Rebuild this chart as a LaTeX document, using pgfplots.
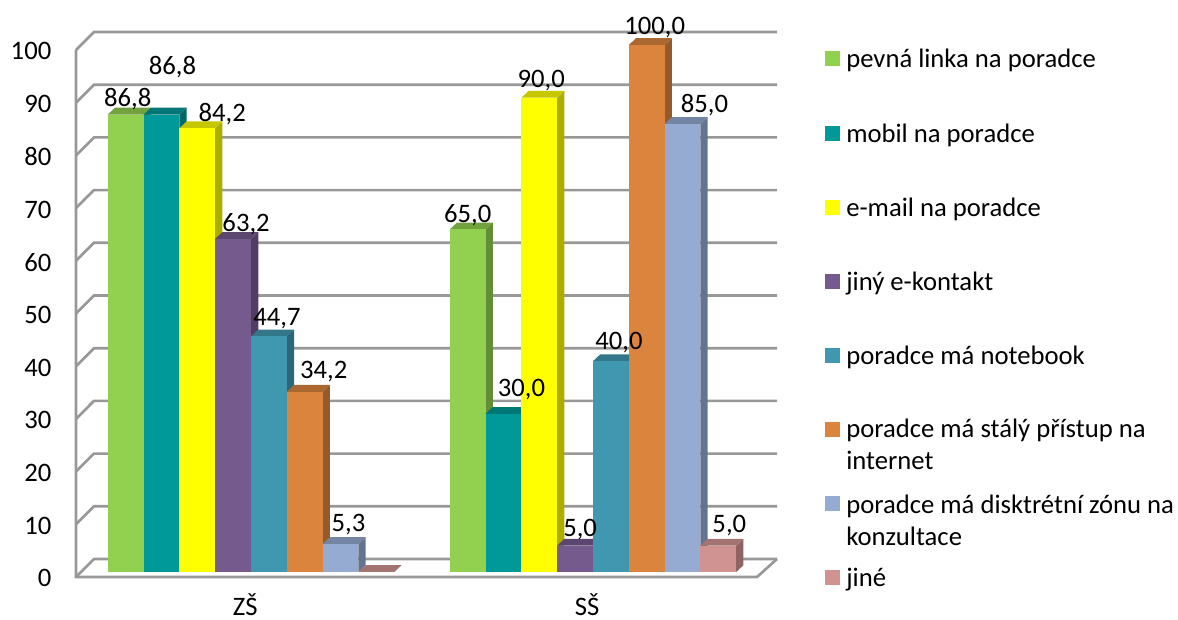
\documentclass[border=0pt]{standalone}
\usepackage{fontspec}
\setmainfont{Carlito}
\usepackage{pgfplots}
\pgfplotsset{compat=1.18}

% 1 px of the reference = 0.75pt
\definecolor{wall}{HTML}{989898}
\definecolor{cgreen}{HTML}{92D050}
\definecolor{cteal}{HTML}{009999}
\definecolor{cyell}{HTML}{FFFF00}
\definecolor{cpurp}{HTML}{755A8E}
\definecolor{cblue}{HTML}{4097B0}
\definecolor{corange}{HTML}{DB843D}
\definecolor{clight}{HTML}{95ABD1}
\definecolor{cpink}{HTML}{D19392}

\newcommand{\lblfont}{\fontsize{20}{24}\selectfont}

% group, index, value, colour
\newcommand{\barbox}[4]{%
  \pgfmathsetmacro\xa{#1+(#2-4)*0.1047-0.003}%
  \pgfmathsetmacro\xb{\xa+0.1047}%
  \pgfmathsetmacro\xc{\xb+0.0213}%
  \pgfmathsetmacro\xd{\xa+0.0213}%
  \pgfmathsetmacro\yt{#3+1.3}%
  \edef\tmp{%
    \noexpand\addplot[fill=#4!68!black,draw=none] coordinates {(\xb,0)(\xc,1.3)(\xc,\yt)(\xb,#3)} --cycle;
    \noexpand\addplot[fill=#4!78!black,draw=none] coordinates {(\xa,#3)(\xb,#3)(\xc,\yt)(\xd,\yt)} --cycle;
    \noexpand\addplot[fill=#4,draw=none] coordinates {(\xa,0)(\xb,0)(\xb,#3)(\xa,#3)} --cycle;
  }\tmp
}
% group, index, value, text, dx px, dy px
\newcommand{\barlabel}[6]{%
  \node[font=\lblfont,inner sep=0pt,xshift=#5*0.75pt,yshift=(#6-2.5)*0.75pt]
    at (axis cs:{#1+(#2-3.5)*0.1047},#3) {#4};
}

\begin{document}
\begin{tikzpicture}
\useasboundingbox (0,0) rectangle (883.5pt,464.25pt);
\begin{axis}[
  at={(57pt,31.5pt)}, anchor=south west,
  scale only axis, width=525.75pt, height=408.75pt,
  xmin=-0.5146, xmax=1.5351, ymin=-0.95, ymax=102.47,
  clip=false,
  axis line style={draw=none},
  major tick length=0pt,
  xtick={-0.02,0.98}, xticklabels={ZŠ,SŠ},
  ytick={-0.95,9.05,19.05,29.05,39.05,49.05,59.05,69.05,79.05,89.05,99.05},
  yticklabels={0,10,20,30,40,50,60,70,80,90,100},
  tick label style={font=\lblfont},
  yticklabel style={anchor=east,xshift=-15pt,yshift=-1pt},
  xticklabel style={anchor=center,yshift=-20.5pt},
]
% walls and grid
\pgfplotsinvokeforeach{0,10,...,100}{
  \draw[wall,line width=2pt] (axis cs:-0.5146,#1-0.95) -- (axis cs:-0.4620,#1+2.47) -- (axis cs:1.5351,#1+2.47);
}
\draw[wall,line width=2pt] (axis cs:-0.5146,99.05) -- (axis cs:-0.5146,-0.95) -- (axis cs:1.4766,-0.95) -- (axis cs:1.5351,2.47);

% ZŠ
\barbox{0}{0}{86.8}{cgreen}
\barbox{0}{1}{86.8}{cteal}
\barbox{0}{2}{84.2}{cyell}
\barbox{0}{3}{63.2}{cpurp}
\barbox{0}{4}{44.7}{cblue}
\barbox{0}{5}{34.2}{corange}
\barbox{0}{6}{5.3}{clight}
\barbox{0}{7}{0}{cpink}
% SŠ
\barbox{1}{0}{65}{cgreen}
\barbox{1}{1}{30}{cteal}
\barbox{1}{2}{90}{cyell}
\barbox{1}{3}{5}{cpurp}
\barbox{1}{4}{40}{cblue}
\barbox{1}{5}{100}{corange}
\barbox{1}{6}{85}{clight}
\barbox{1}{7}{5}{cpink}

\barlabel{0}{0}{86.8}{86,8}{1}{17.5}
\barlabel{0}{1}{86.8}{86,8}{10}{50}
\barlabel{0}{2}{84.2}{84,2}{24}{17}
\barlabel{0}{3}{63.2}{63,2}{12}{17}
\barlabel{0}{4}{44.7}{44,7}{7}{20}
\barlabel{0}{5}{34.2}{34,2}{18}{23}
\barlabel{0}{6}{5.3}{5,3}{7}{22}
\barlabel{1}{0}{65}{65,0}{-1}{17}
\barlabel{1}{1}{30}{30,0}{17}{27}
\barlabel{1}{2}{90}{90,0}{1}{20}
\barlabel{1}{3}{5}{5,0}{4}{19}
\barlabel{1}{4}{40}{40,0}{7}{21}
\barlabel{1}{5}{100}{100,0}{7}{20}
\barlabel{1}{6}{85}{85,0}{21}{21}
\barlabel{1}{7}{5}{5,0}{10}{23}
\end{axis}

% legend, reference pixels
\begin{scope}[x=0.75pt,y=-0.75pt,yshift=464.25pt]
  \newcommand{\legrow}[3]{%
    \fill[#1] (825,#2-7.5) rectangle (840,#2+7.5);
    \node[anchor=west,font=\lblfont,align=left,inner sep=0pt,text depth=0pt] at (846,#2) {#3};
  }
  \legrow{cgreen}{58.5}{pevná linka na poradce}
  \legrow{cteal}{133.5}{mobil na poradce}
  \legrow{cyell}{207.5}{e-mail na poradce}
  \legrow{cpurp}{281.5}{jiný e-kontakt}
  \legrow{cblue}{355.5}{poradce má notebook}
  \fill[corange] (825,422) rectangle (840,437);
  \node[anchor=north west,font=\lblfont,align=left,inner sep=0pt] at (846,418.5) {poradce má stálý přístup na\\internet};
  \fill[clight] (825,496) rectangle (840,511);
  \node[anchor=north west,font=\lblfont,align=left,inner sep=0pt] at (846,494.5) {poradce má disktrétní zónu na\\konzultace};
  \legrow{cpink}{577.5}{jiné}
\end{scope}
\end{tikzpicture}
\end{document}
